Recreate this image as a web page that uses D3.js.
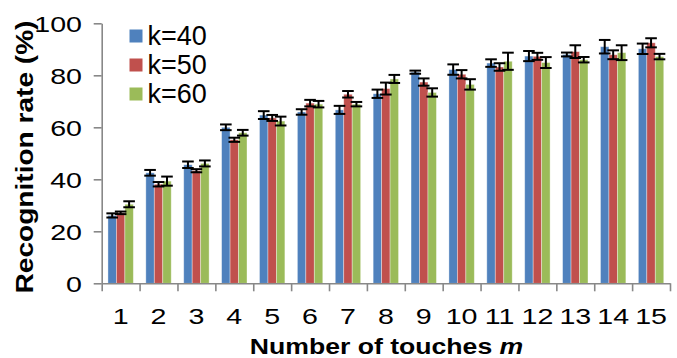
<!DOCTYPE html>
<html>
<head>
<meta charset="utf-8">
<script src="https://cdn.jsdelivr.net/npm/d3@7"></script>
<style>
  html, body { margin: 0; padding: 0; background: #fff; }
  svg { display: block; }
  text { font-family: "Liberation Sans", Arial, sans-serif; fill: #000; }
</style>
</head>
<body>
<div id="chart"></div>
<script>
// ---- data ----
const categories = ["1","2","3","4","5","6","7","8","9","10","11","12","13","14","15"];
const seriesNames = ["k=40", "k=50", "k=60"];
const k40 = [26.1, 42.5, 45.6, 60.0, 64.7, 65.9, 66.7, 72.9, 81.2, 82.2, 84.7, 87.4, 88.0, 91.0, 90.2];
const k50 = [27.1, 38.1, 43.3, 55.2, 63.6, 69.3, 72.7, 74.9, 77.4, 80.4, 83.2, 87.3, 89.1, 87.9, 92.5];
const k60 = [30.4, 39.3, 46.1, 57.9, 62.4, 68.9, 68.9, 78.6, 73.4, 76.5, 85.4, 84.9, 86.0, 88.7, 87.2];
const err40 = [0.8, 1.1, 1.25, 1.1, 1.5, 1.05, 1.55, 1.6, 0.6, 2.0, 1.45, 1.95, 0.75, 2.6, 2.0];
const err50 = [0.5, 0.85, 0.6, 0.8, 1.15, 1.25, 1.25, 2.3, 1.4, 1.6, 1.45, 1.35, 2.45, 1.7, 1.75];
const err60 = [1.15, 1.75, 1.15, 1.1, 1.7, 1.25, 0.85, 1.55, 1.6, 2.0, 3.3, 2.1, 1.05, 2.85, 1.05];
const yTicks = [0, 20, 40, 60, 80, 100];
const xTitle = "Number of touches ";
const xTitleVar = "m";
const yTitle = "Recognition rate (%)";

const seriesValues = [k40, k50, k60];
const seriesErrors = [err40, err50, err60];
const colors = ["#4F81BD", "#C0504D", "#9BBB59"];

// ---- layout ----
const W = 677, H = 358;
const mLeft = 101.7, mRight = 670, mTop = 23.3, mBottom = 283.3;
const SX = 1.3; // horizontal text stretch seen in the reference

const svg = d3.select("#chart").append("svg").attr("width", W).attr("height", H);

const y = d3.scaleLinear().domain([0, 100]).range([mBottom, mTop]);
const x = d3.scaleBand().domain(categories).range([mLeft, mRight]).padding(0);
const xEdge = d3.scaleLinear().domain([0, categories.length]).range([mLeft, mRight]);
const bw = x.bandwidth();
const xs = d3.scaleBand().domain(seriesNames).range([bw * 0.165, bw * 0.835]).padding(0);

const rows = [];
categories.forEach((c, i) => {
  seriesNames.forEach((s, j) => {
    rows.push({ c, s, j, v: seriesValues[j][i], e: seriesErrors[j][i] });
  });
});

// bars
svg.append("g").selectAll("rect").data(rows).join("rect")
  .attr("x", d => x(d.c) + xs(d.s))
  .attr("y", d => y(d.v))
  .attr("width", xs.bandwidth())
  .attr("height", d => y(0) - y(d.v))
  .attr("fill", d => colors[d.j])
  .attr("stroke", "rgba(255,255,255,0.45)")
  .attr("stroke-width", 0.8);

// error bars
const eg = svg.append("g").attr("stroke", "#000").attr("stroke-width", 2);
const cap = 5.8;
rows.forEach(d => {
  const cx = x(d.c) + xs(d.s) + xs.bandwidth() / 2;
  const y1 = y(d.v + d.e), y2 = y(d.v - d.e);
  eg.append("line").attr("x1", cx).attr("x2", cx).attr("y1", y1).attr("y2", y2);
  eg.append("line").attr("x1", cx - cap).attr("x2", cx + cap).attr("y1", y1).attr("y2", y1);
  eg.append("line").attr("x1", cx - cap).attr("x2", cx + cap).attr("y1", y2).attr("y2", y2);
});

// y axis
const yAxis = svg.append("g").attr("transform", `translate(${mLeft},0)`)
  .call(d3.axisLeft(y).tickValues(yTicks).tickSize(8).tickSizeOuter(0).tickFormat(d3.format("d")));
yAxis.selectAll("path, line").attr("stroke", "#888").attr("stroke-width", 1.6);
yAxis.selectAll("text")
  .attr("font-size", 22)
  .attr("x", -19.7 / SX)
  .attr("dy", "0.36em")
  .attr("transform", `scale(${SX},1)`)
  .style("font-family", '"Liberation Sans", Arial, sans-serif')
  .attr("fill", "#000");

// x axis edge ticks
const xAxis = svg.append("g").attr("transform", `translate(0,${mBottom})`)
  .call(d3.axisBottom(xEdge).tickValues(d3.range(categories.length + 1)).tickSize(8).tickSizeOuter(0).tickFormat(""));
xAxis.selectAll("path, line").attr("stroke", "#888").attr("stroke-width", 1.6);

// x labels
const xLab = svg.append("g").attr("transform", `translate(0,${mBottom})`)
  .call(d3.axisBottom(x).tickSize(0));
xLab.select(".domain").remove();
xLab.selectAll(".tick").each(function (d) {
  const t = d3.select(this);
  t.select("text")
    .attr("font-size", 22)
    .attr("x", 0)
    .attr("y", 41)
    .attr("dy", 0)
    .attr("transform", `scale(${SX},1)`)
    .style("font-family", '"Liberation Sans", Arial, sans-serif')
    .attr("fill", "#000");
});

// x title
const xt = svg.append("text")
  .attr("transform", `translate(386.5,354) scale(1.21,1)`)
  .attr("text-anchor", "middle")
  .attr("font-size", 22)
  .attr("font-weight", "bold");
xt.append("tspan").text(xTitle);
xt.append("tspan").attr("font-style", "italic").text(xTitleVar);

// y title
svg.append("text")
  .attr("transform", `translate(33,157) rotate(-90) scale(1.17,1)`)
  .attr("text-anchor", "middle")
  .attr("font-size", 24)
  .attr("font-weight", "bold")
  .text(yTitle);

// legend
const lg = svg.append("g");
seriesNames.forEach((s, j) => {
  lg.append("rect")
    .attr("x", 129.5).attr("y", 29.5 + j * 29)
    .attr("width", 13).attr("height", 13)
    .attr("fill", colors[j]);
  lg.append("text")
    .attr("x", 147.5).attr("y", 44.5 + j * 29)
    .attr("font-size", 27)
    .text(s);
});
</script>
</body>
</html>
